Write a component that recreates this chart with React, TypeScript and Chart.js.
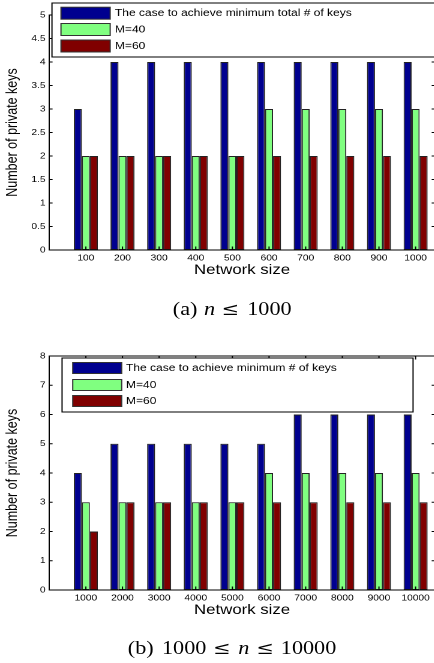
import React, { useEffect, useRef } from "react";
import { Chart, registerables } from "chart.js";

Chart.register(...registerables);

// ---------- data ----------
const SIZES_A = ["100", "200", "300", "400", "500", "600", "700", "800", "900", "1000"];
const MIN_KEYS_A = [3, 4, 4, 4, 4, 4, 4, 4, 4, 4];
const M40_A = [2, 2, 2, 2, 2, 3, 3, 3, 3, 3];
const M60_A = [2, 2, 2, 2, 2, 2, 2, 2, 2, 2];
const Y_TICKS_A = [0, 0.5, 1, 1.5, 2, 2.5, 3, 3.5, 4, 4.5, 5];

const SIZES_B = ["1000", "2000", "3000", "4000", "5000", "6000", "7000", "8000", "9000", "10000"];
const MIN_KEYS_B = [4, 5, 5, 5, 5, 5, 6, 6, 6, 6];
const M40_B = [3, 3, 3, 3, 3, 4, 4, 4, 4, 4];
const M60_B = [2, 3, 3, 3, 3, 3, 3, 3, 3, 3];
const Y_TICKS_B = [0, 1, 2, 3, 4, 5, 6, 7, 8];

const LABEL_MIN_A = "The case to achieve minimum total # of keys";
const LABEL_MIN_B = "The case to achieve minimum # of keys";
const LABEL_M40 = "M=40";
const LABEL_M60 = "M=60";
const X_TITLE = "Network size";
const Y_TITLE = "Number of private keys";

// ---------- styles ----------
const BLUE = "#00008F";
const GREEN = "#80FF80";
const RED = "#800000";
const SANS = "'Liberation Sans', Arial, Helvetica, sans-serif";
const SERIF = "'Liberation Serif', 'Times New Roman', serif";
const SYM = "'DejaVu Serif', serif";

const boxLegend = {
  id: "boxLegend",
  afterDatasetsDraw(chart: any, _args: any, g: any) {
    const { ctx, chartArea: ca } = chart;
    ctx.save();
    ctx.strokeStyle = "#000";
    ctx.lineWidth = 1;
    ctx.strokeRect(ca.left, ca.top, ca.right - ca.left, ca.bottom - ca.top);
    const xs = chart.scales.x;
    const ys = chart.scales.y;
    ctx.beginPath();
    xs.ticks.forEach((t: any) => {
      const p = xs.getPixelForValue(t.value);
      ctx.moveTo(p, ca.bottom);
      ctx.lineTo(p, ca.bottom - 3.5);
      ctx.moveTo(p, ca.top);
      ctx.lineTo(p, ca.top + 3.5);
    });
    ys.ticks.forEach((t: any) => {
      const p = ys.getPixelForValue(t.value);
      ctx.moveTo(ca.left, p);
      ctx.lineTo(ca.left + 2.8, p);
      ctx.moveTo(ca.right, p);
      ctx.lineTo(ca.right - 2.8, p);
    });
    ctx.stroke();

    const bx = ca.left + g.dx;
    const by = ca.top + g.dy;
    ctx.fillStyle = "#fff";
    ctx.fillRect(bx, by, g.w, g.h);
    ctx.strokeStyle = "#000";
    ctx.strokeRect(bx, by, g.w, g.h);
    chart.data.datasets.forEach((ds: any, i: number) => {
      const ry = by + g.rows[i];
      ctx.fillStyle = ds.backgroundColor;
      ctx.fillRect(bx + g.sx, ry - g.sh / 2, g.sw, g.sh);
      ctx.strokeStyle = "#333";
      ctx.strokeRect(bx + g.sx, ry - g.sh / 2, g.sw, g.sh);
      ctx.fillStyle = "#000";
      ctx.font = `10px ${SANS}`;
      ctx.textBaseline = "middle";
      ctx.textAlign = "left";
      ctx.fillText(ds.label, bx + g.sx + g.sw + g.gap, ry);
    });
    ctx.restore();
  },
};

function buildConfig(
  labels: string[],
  minKeys: number[],
  m40: number[],
  m60: number[],
  minLabel: string,
  yTicks: number[],
  yMax: number,
  legend: any,
  padTop: number
): any {
  const toPts = (arr: number[]) => arr.map((v, i) => ({ x: i + 1, y: v }));
  const bar = { borderWidth: 1, borderColor: "#222", borderSkipped: false };
  return {
    type: "bar",
    data: {
      datasets: [
        { label: minLabel, data: toPts(minKeys), backgroundColor: BLUE, ...bar },
        { label: LABEL_M40, data: toPts(m40), backgroundColor: GREEN, ...bar },
        { label: LABEL_M60, data: toPts(m60), backgroundColor: RED, ...bar },
      ],
    },
    options: {
      animation: false,
      responsive: false,
      devicePixelRatio: 2,
      layout: { padding: { top: padTop, right: 7.5, left: 0, bottom: 0 } },
      datasets: { bar: { barPercentage: 1, categoryPercentage: 0.655 } },
      scales: {
        x: {
          type: "linear",
          min: 0,
          max: 10.53,
          offset: false,
          grid: { display: false, drawTicks: false, offset: false },
          border: { display: false },
          afterBuildTicks: (s: any) => {
            s.ticks = labels.map((_, i) => ({ value: i + 1 }));
          },
          afterFit: (s: any) => {
            s.height = 35;
          },
          ticks: {
            callback: (v: number) => labels[Math.round(v) - 1] ?? "",
            autoSkip: false,
            maxRotation: 0,
            minRotation: 0,
            padding: 3,
            color: "#000",
            font: { family: SANS, size: 8.5 },
          },
          title: {
            display: true,
            text: X_TITLE,
            color: "#000",
            font: { family: SANS, size: 14 },
            padding: { top: 0, bottom: 6.6 },
          },
        },
        y: {
          min: 0,
          max: yMax,
          grid: { display: false, drawTicks: false },
          border: { display: false },
          afterBuildTicks: (s: any) => {
            s.ticks = yTicks.map((v) => ({ value: v }));
          },
          afterFit: (s: any) => {
            s.width = 41;
          },
          ticks: {
            callback: (v: number) => String(v),
            padding: 3,
            color: "#000",
            font: { family: SANS, size: 8.5 },
          },
          title: {
            display: true,
            text: Y_TITLE,
            color: "#000",
            font: { family: SANS, size: 12.5 },
            padding: { top: 3, bottom: 0 },
          },
        },
      },
      plugins: {
        legend: { display: false },
        tooltip: { enabled: false },
        boxLegend: legend,
      },
    },
    plugins: [boxLegend],
  };
}

function BarChart(props: { config: any; top: number; height: number }) {
  const ref = useRef<HTMLCanvasElement | null>(null);
  useEffect(() => {
    if (!ref.current) return;
    const chart = new Chart(ref.current, props.config);
    return () => chart.destroy();
  }, []);
  return (
    <canvas
      ref={ref}
      width={370}
      height={props.height}
      style={{ position: "absolute", left: 0, top: props.top }}
    />
  );
}

const piece = (text: string, left: number, top: number, italic = false) => (
  <span
    key={`${text}-${left}-${top}`}
    style={{
      position: "absolute",
      left,
      top,
      fontFamily: SERIF,
      fontSize: 18.5,
      lineHeight: "18px",
      fontStyle: italic ? "italic" : "normal",
      whiteSpace: "nowrap",
      color: "#000",
    }}
  >
    {text}
  </span>
);

const leq = (left: number, top: number) => (
  <span
    key={`leq-${left}-${top}`}
    style={{
      position: "absolute",
      left,
      top,
      fontFamily: SYM,
      fontSize: 17.5,
      lineHeight: "18px",
      whiteSpace: "nowrap",
      color: "#000",
    }}
  >
    ≤
  </span>
);

export default function App() {
  const configA = buildConfig(
    SIZES_A, MIN_KEYS_A, M40_A, M60_A, LABEL_MIN_A, Y_TICKS_A, 5,
    { dx: 2.3, dy: -12, w: 340, h: 54, rows: [10.2, 26.5, 43], sx: 7.5, sw: 41, sh: 12, gap: 4 },
    15
  );
  const configB = buildConfig(
    SIZES_B, MIN_KEYS_B, M40_B, M60_B, LABEL_MIN_B, Y_TICKS_B, 8,
    { dx: 10.7, dy: 2, w: 292.5, h: 54, rows: [10, 27, 43], sx: 8.9, sw: 40.8, sh: 11, gap: 3.6 },
    26
  );
  return (
    <div
      style={{
        position: "fixed",
        left: 0,
        top: 0,
        width: 434,
        height: 663,
        overflow: "hidden",
        background: "#fff",
      }}
    >
      <div
        style={{
          position: "absolute",
          left: 0,
          top: 0,
          width: 370,
          height: 663,
          transform: "scaleX(1.2)",
          transformOrigin: "0 0",
        }}
      >
        <BarChart config={configA} top={0} height={285} />
        <BarChart config={configB} top={330} height={295} />
        {piece("(a)", 144, 300)}
        {piece("n", 170, 300, true)}
        {leq(184.5, 300)}
        {piece("1000", 206, 300)}
        {piece("(b)", 106.5, 639)}
        {piece("1000", 135, 639)}
        {leq(177.5, 639)}
        {piece("n", 198.5, 639, true)}
        {leq(213.5, 639)}
        {piece("10000", 234, 639)}
      </div>
    </div>
  );
}
